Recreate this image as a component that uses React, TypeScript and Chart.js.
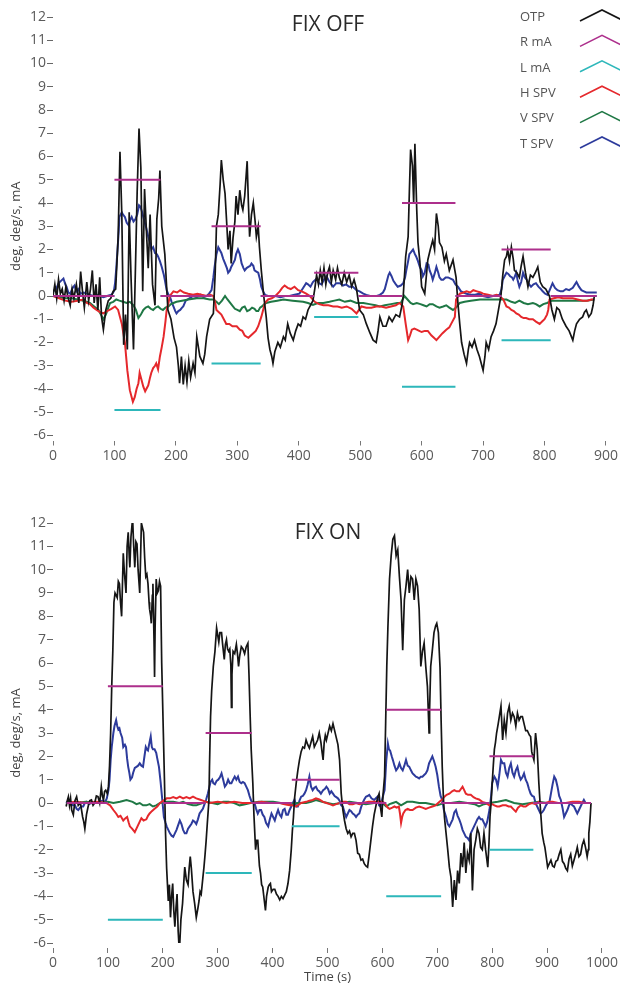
import React, { useEffect, useRef } from 'react';
import { Chart, registerables } from 'chart.js';
Chart.register(...registerables);

const SERIES_LABELS = ['OTP', 'R mA', 'L mA', 'H SPV', 'V SPV', 'T SPV'];
const SERIES_COLORS = ['#151515', '#ad2f8c', '#2db7ba', '#e5282c', '#1f7845', '#2d3b9c'];
const Y_TICKS_MIN = -6;
const Y_TICKS_MAX = 12;

// ---------- FIX OFF ----------
const offTitle = 'FIX OFF';
const offXMax = 900;
const offSpan = [0, 885];
const offStimStart = [100, 258, 425, 568, 730];
const offStimEnd = [175, 338, 497, 655, 810];
const offRLevel = [5, 3, 1, 4, 2];
const offLLevel = [-4.9, -2.9, -0.9, -3.9, -1.9];

const offOtp = [
  [0, 0], [3, 0.5], [6, -0.1], [9, 0.7], [12, 0.1], [15, 0.3], [18, -0.2], [21, 0.4], [24, 0], [28, -0.4],
  [31, 0.3], [34, -0.1], [38, 0.5], [42, -0.3], [45, 1.05], [48, 0.2], [51, -0.5], [55, 0.6], [58, -0.2], [61, 0.3],
  [64, 1.1], [67, -0.3], [70, 0.5], [73, -0.6], [76, 0.8], [79, -0.9], [82, -1.45], [86, -0.6], [90, -0.2], [94, -0.1],
  [98, 0.2], [102, 0.3], [106, 2.5], [109, 6.2], [112, 3.5], [115, -2.1], [118, -0.8], [121, -2.3], [124, 3.6], [127, 0.8],
  [131, -2.3], [134, 1.0], [137, 4.5], [140, 7.2], [143, 5.5], [146, 0.2], [149, 4.6], [152, 2.8], [155, 1.2], [158, 3.5],
  [162, 0.5], [166, -0.4], [169, 3.3], [172, 4.2], [174, 5.4], [177, 3.0], [182, 1.8], [187, -0.6], [192, -1.0], [197, -1.8],
  [201, -2.2], [204, -3.0], [206, -3.75], [209, -2.6], [212, -3.8], [215, -3.0], [218, -3.7], [221, -2.8], [224, -3.5], [228, -2.9],
  [231, -3.3], [234, -1.75], [239, -2.6], [244, -2.9], [247, -2.5], [250, -1.75], [255, -1.0], [261, -0.75], [264, 1.0], [266, 3.0],
  [269, 3.5], [272, 4.8], [274, 5.85], [277, 5.0], [280, 4.4], [283, 3.0], [285, 2.0], [288, 2.8], [290, 1.4], [293, 2.5],
  [296, 3.2], [298, 4.3], [301, 3.5], [304, 4.55], [307, 3.9], [309, 3.7], [312, 4.3], [316, 5.8], [318, 4.0], [320, 2.55],
  [323, 3.5], [326, 4.0], [329, 3.2], [331, 2.55], [334, 3.0], [336, 2.1], [339, 1.1], [343, 0.0], [347, -0.9], [350, -1.8],
  [353, -2.3], [356, -2.6], [358, -2.9], [361, -2.4], [366, -2.0], [370, -2.2], [375, -1.75], [378, -1.9], [382, -1.2], [386, -1.6],
  [391, -1.9], [395, -1.5], [399, -1.2], [403, -1.3], [407, -0.9], [411, -1.0], [415, -0.6], [419, -0.4], [423, -0.2], [426, 0.3],
  [429, 0.9], [432, 0.5], [435, 1.1], [438, 0.6], [441, 1.2], [444, 0.5], [447, 1.0], [450, 1.25], [453, 0.6], [456, 1.1],
  [460, 0.7], [463, 1.2], [466, 0.8], [470, 0.5], [474, 1.0], [478, 0.6], [482, 0.9], [486, 0.4], [490, 0.7], [494, 0.3],
  [499, -0.6], [505, -0.8], [510, -1.2], [516, -1.6], [521, -1.9], [526, -2.0], [529, -1.5], [532, -0.9], [537, -1.3], [542, -1.3],
  [547, -0.9], [552, -1.1], [558, -0.8], [564, -0.9], [568, -0.4], [570, 0.0], [574, 1.7], [578, 2.55], [580, 4.5], [582, 6.3],
  [585, 5.6], [587, 4.0], [589, 6.55], [592, 3.7], [594, 2.3], [597, 1.5], [600, 0.4], [605, 0.1], [610, 1.55], [614, 2.0],
  [618, 2.4], [621, 2.0], [624, 3.55], [627, 3.0], [629, 2.3], [633, 2.1], [637, 1.5], [640, 1.8], [645, 1.1], [651, 1.55],
  [656, 0.8], [659, -0.3], [662, -1.2], [665, -2.0], [669, -2.5], [673, -2.9], [676, -2.3], [678, -2.0], [682, -2.2], [686, -1.9],
  [690, -2.3], [694, -2.6], [700, -3.2], [703, -2.6], [705, -2.0], [709, -2.3], [713, -1.75], [717, -1.5], [721, -1.2], [725, -0.6],
  [729, 0.0], [732, 0.9], [735, 1.55], [738, 1.7], [740, 2.0], [743, 1.5], [746, 2.1], [749, 1.6], [751, 1.1], [755, 1.0],
  [759, 0.8], [762, 1.3], [765, 1.7], [769, 1.0], [773, 0.4], [777, 0.9], [781, 0.8], [785, 1.0], [789, 1.25], [793, 0.6],
  [797, 0.4], [802, 0.3], [808, 0.0], [812, -0.6], [816, -1.0], [820, -0.5], [824, -0.6], [829, -1.0], [835, -1.3], [840, -1.5],
  [846, -1.9], [849, -1.5], [852, -1.2], [857, -1.0], [862, -0.9], [865, -0.7], [868, -0.6], [872, -0.9], [876, -0.75], [879, -0.4],
  [881, 0.0],
];

const offHspv = [
  [0, 0.0], [10, -0.1], [20, -0.2], [30, -0.25], [40, -0.2], [49, -0.15], [55, -0.3], [60, -0.35], [66, -0.5], [71, -0.6],
  [77, -0.7], [82, -0.75], [88, -0.65], [95, -0.55], [101, -0.45], [106, -0.6], [112, -1.2], [117, -2.0], [121, -3.2], [125, -4.05],
  [130, -4.55], [133, -4.35], [136, -4.0], [139, -3.75], [141, -3.3], [144, -3.6], [147, -3.9], [150, -4.1], [153, -3.95], [155, -3.85],
  [158, -3.5], [160, -3.3], [163, -3.1], [166, -3.0], [168, -2.9], [171, -3.15], [174, -2.6], [177, -2.2], [180, -1.75], [183, -1.1],
  [185, -0.6], [188, -0.3], [190, 0.0], [196, 0.2], [202, 0.15], [207, 0.25], [213, 0.15], [220, 0.1], [228, 0.05], [235, 0.1],
  [242, 0.05], [250, 0.0], [256, 0.05], [261, 0.0], [264, -0.3], [266, -0.6], [270, -0.7], [274, -0.8], [278, -1.0], [282, -1.2],
  [287, -1.2], [292, -1.3], [299, -1.3], [304, -1.45], [308, -1.5], [312, -1.7], [318, -1.8], [322, -1.7], [326, -1.6], [330, -1.5],
  [334, -1.3], [339, -0.9], [342, -0.6], [345, -0.3], [350, -0.15], [356, -0.1], [362, 0.0], [369, 0.2], [373, 0.35], [377, 0.45],
  [382, 0.35], [387, 0.3], [393, 0.4], [399, 0.25], [405, 0.2], [412, 0.1], [418, 0.0], [426, -0.25], [433, -0.35], [440, -0.4],
  [448, -0.4], [456, -0.45], [463, -0.45], [470, -0.5], [478, -0.45], [486, -0.55], [494, -0.75], [502, -0.45], [510, -0.5], [518, -0.5],
  [526, -0.45], [534, -0.45], [542, -0.5], [550, -0.45], [558, -0.4], [564, -0.3], [570, -0.45], [574, -1.2], [578, -1.9], [581, -1.7],
  [584, -1.45], [588, -1.4], [592, -1.45], [596, -1.5], [600, -1.55], [605, -1.5], [610, -1.5], [616, -1.7], [620, -1.8], [624, -1.9],
  [629, -1.75], [634, -1.6], [640, -1.45], [645, -1.35], [648, -1.2], [654, -0.9], [656, -0.15], [662, 0.1], [668, 0.15], [673, 0.2],
  [679, 0.15], [684, 0.25], [690, 0.2], [696, 0.15], [700, 0.1], [708, 0.05], [716, 0.0], [722, 0.05], [727, 0.0], [733, -0.15],
  [738, -0.45], [742, -0.5], [746, -0.6], [750, -0.65], [754, -0.75], [758, -0.8], [762, -0.9], [766, -0.95], [770, -0.95], [775, -1.0],
  [781, -1.0], [786, -1.1], [792, -1.2], [796, -1.1], [800, -1.0], [804, -0.8], [806, -0.6], [808, -0.15], [815, -0.1], [822, -0.05],
  [830, -0.1], [838, -0.1], [846, -0.1], [854, -0.15], [862, -0.2], [870, -0.2], [876, -0.15], [881, -0.15],
];

const offVspv = [
  [0, 0.0], [10, -0.05], [20, -0.1], [30, -0.1], [40, -0.15], [50, -0.2], [60, -0.3], [67, -0.45], [74, -0.6], [78, -0.8],
  [82, -1.0], [86, -0.8], [90, -0.5], [93, -0.3], [98, -0.25], [103, -0.15], [108, -0.2], [114, -0.25], [120, -0.3], [125, -0.25],
  [131, -0.4], [135, -0.6], [139, -0.95], [143, -0.8], [147, -0.6], [151, -0.5], [155, -0.45], [159, -0.55], [163, -0.6], [167, -0.5],
  [171, -0.45], [175, -0.55], [179, -0.6], [183, -0.5], [188, -0.45], [192, -0.35], [196, -0.3], [201, -0.25], [210, -0.2], [220, -0.15],
  [234, -0.1], [245, -0.1], [255, -0.15], [261, -0.15], [266, -0.25], [270, -0.35], [275, -0.2], [280, 0.0], [284, -0.15], [290, -0.35],
  [296, -0.55], [300, -0.6], [304, -0.65], [308, -0.5], [312, -0.45], [316, -0.65], [320, -0.6], [324, -0.5], [328, -0.55], [331, -0.65],
  [334, -0.65], [337, -0.5], [340, -0.45], [344, -0.35], [347, -0.3], [355, -0.25], [365, -0.2], [375, -0.15], [390, -0.2], [407, -0.25],
  [415, -0.3], [423, -0.38], [431, -0.3], [440, -0.3], [450, -0.25], [458, -0.2], [466, -0.15], [475, -0.25], [484, -0.2], [494, -0.3],
  [505, -0.3], [515, -0.35], [525, -0.4], [532, -0.45], [540, -0.4], [550, -0.35], [560, -0.3], [566, -0.3], [572, 0.0], [577, -0.15],
  [582, -0.3], [586, -0.35], [592, -0.3], [598, -0.35], [603, -0.4], [608, -0.45], [613, -0.35], [618, -0.35], [624, -0.45], [629, -0.5],
  [635, -0.45], [640, -0.4], [645, -0.5], [651, -0.6], [656, -0.5], [662, -0.3], [670, -0.25], [680, -0.2], [695, -0.15], [710, -0.15],
  [725, -0.15], [738, -0.15], [746, -0.25], [752, -0.3], [759, -0.2], [766, -0.3], [773, -0.35], [781, -0.3], [786, -0.35], [792, -0.45],
  [798, -0.35], [804, -0.3], [812, -0.2], [825, -0.2], [840, -0.2], [855, -0.2], [868, -0.2], [881, -0.15],
];

const offTspv = [
  [0, 0.2], [5, 0.3], [9, 0.55], [13, 0.65], [17, 0.75], [20, 0.5], [22, 0.4], [25, 0.15], [28, 0.1], [32, 0.35],
  [35, 0.45], [38, 0.2], [41, 0.3], [45, 0.1], [50, 0.15], [55, 0.1], [60, 0.05], [66, 0.0], [71, 0.05], [76, 0.0],
  [82, -0.05], [88, 0.0], [95, 0.05], [99, 0.2], [101, 0.55], [103, 1.2], [105, 2.0], [107, 2.8], [108, 3.4], [110, 3.5],
  [112, 3.6], [114, 3.5], [117, 3.4], [120, 3.15], [123, 3.05], [126, 3.3], [128, 3.4], [131, 3.2], [134, 3.3], [137, 3.5],
  [140, 3.9], [142, 3.85], [144, 3.7], [147, 3.4], [150, 3.1], [152, 2.9], [155, 2.55], [158, 2.3], [160, 2.0], [163, 2.1],
  [166, 1.85], [169, 1.8], [171, 1.7], [174, 1.5], [177, 1.25], [180, 0.95], [182, 0.7], [185, 0.25], [188, 0.05], [190, 0.0],
  [193, -0.25], [196, -0.45], [199, -0.65], [201, -0.75], [204, -0.65], [207, -0.6], [210, -0.5], [212, -0.45], [216, -0.2], [222, -0.1],
  [228, 0.0], [234, -0.05], [240, 0.05], [245, -0.05], [250, 0.0], [254, 0.1], [258, 0.25], [261, 0.8], [263, 1.25], [266, 1.8],
  [269, 2.1], [271, 2.0], [274, 1.85], [277, 1.6], [280, 1.4], [283, 1.2], [285, 1.0], [288, 1.1], [290, 1.25], [293, 1.4],
  [296, 1.55], [298, 1.8], [301, 2.0], [304, 1.8], [307, 1.4], [310, 1.2], [312, 1.1], [315, 1.2], [318, 1.25], [321, 1.3],
  [323, 1.4], [326, 1.3], [328, 1.1], [331, 1.05], [334, 1.0], [337, 0.7], [339, 0.4], [342, 0.2], [345, 0.05], [350, 0.0],
  [362, 0.0], [370, -0.05], [378, 0.0], [385, 0.0], [393, 0.05], [401, 0.1], [406, 0.3], [412, 0.55], [415, 0.5], [419, 0.4],
  [423, 0.6], [429, 0.75], [433, 0.55], [437, 0.5], [441, 0.7], [445, 0.85], [450, 0.6], [456, 0.4], [461, 0.55], [467, 0.55],
  [472, 0.45], [477, 0.5], [482, 0.4], [488, 0.4], [494, 0.25], [499, 0.2], [505, 0.1], [510, 0.05], [516, 0.0], [527, 0.0],
  [532, 0.05], [537, 0.15], [540, 0.3], [543, 0.6], [546, 0.9], [548, 1.0], [551, 0.85], [554, 0.65], [558, 0.5], [561, 0.4],
  [566, 0.45], [570, 0.55], [573, 0.8], [575, 1.1], [578, 1.5], [580, 1.8], [583, 1.9], [586, 2.0], [589, 1.8], [591, 1.7],
  [594, 1.5], [597, 1.25], [600, 1.1], [602, 0.85], [605, 1.0], [608, 1.4], [611, 1.35], [613, 1.1], [616, 0.9], [618, 0.7],
  [621, 0.95], [624, 1.25], [627, 1.0], [629, 0.8], [632, 0.7], [635, 0.7], [639, 0.8], [643, 0.8], [647, 0.75], [651, 0.7],
  [655, 0.5], [659, 0.4], [664, 0.2], [668, 0.15], [673, 0.1], [680, 0.05], [687, 0.05], [694, 0.1], [700, 0.0], [708, -0.05],
  [716, 0.0], [727, 0.05], [730, 0.3], [732, 0.7], [735, 0.85], [738, 1.0], [741, 0.95], [744, 0.85], [747, 0.8], [749, 0.7],
  [751, 0.8], [754, 1.0], [756, 0.7], [759, 0.4], [762, 0.6], [765, 1.0], [768, 0.8], [771, 0.7], [775, 0.5], [778, 0.4],
  [782, 0.5], [786, 0.55], [790, 0.4], [794, 0.3], [797, 0.2], [801, 0.1], [805, 0.05], [809, 0.3], [813, 0.55], [817, 0.35],
  [821, 0.25], [826, 0.2], [830, 0.2], [835, 0.3], [840, 0.25], [846, 0.35], [852, 0.6], [856, 0.4], [860, 0.25], [864, 0.2],
  [868, 0.15], [874, 0.15], [885, 0.15],
];

// ---------- FIX ON ----------
const onTitle = 'FIX ON';
const onXMax = 1000;
const onSpan = [25, 980];
const onStimStart = [100, 278, 435, 607, 795];
const onStimEnd = [200, 362, 522, 707, 875];
const onRLevel = [5, 3, 1, 4, 2];
const onLLevel = [-5, -3, -1, -4, -2];

const onOtp = [
  [24, -0.15], [26, 0.1], [28, 0.27], [30, -0.1], [32, 0.2], [34, -0.3], [37, -0.5], [40, 0.1], [43, 0.27], [46, -0.1],
  [50, 0.0], [54, -0.6], [56, -0.8], [58, -1.1], [61, -0.5], [64, -0.15], [67, 0.1], [70, 0.13], [73, -0.1], [76, 0.0],
  [79, 0.3], [82, 0.27], [85, 0.0], [88, 0.7], [90, 0.3], [92, 0.13], [94, 0.5], [96, 0.55], [99, 0.4], [101, 0.7],
  [103, 1.6], [105, 3.0], [107, 5.0], [109, 6.55], [111, 8.6], [113, 9.0], [115, 8.9], [117, 8.8], [119, 9.5], [121, 9.4],
  [123, 8.6], [125, 8.0], [127, 9.8], [128, 10.7], [130, 9.9], [133, 9.0], [135, 11.0], [137, 11.6], [139, 10.5], [140, 10.1],
  [142, 11.4], [145, 12.2], [147, 11.0], [149, 10.1], [151, 11.2], [153, 11.1], [155, 10.0], [158, 9.0], [160, 11.0], [161, 12.0],
  [163, 11.8], [165, 11.6], [167, 10.5], [169, 9.7], [171, 9.8], [173, 9.4], [175, 8.6], [176, 8.3], [178, 8.0], [179, 7.7],
  [181, 8.9], [182, 9.4], [184, 7.0], [185, 5.4], [186, 7.5], [188, 9.6], [190, 9.0], [192, 9.1], [194, 9.5], [196, 9.3],
  [198, 6.0], [201, 3.0], [203, 1.0], [205, -1.3], [207, -2.8], [210, -4.2], [212, -3.5], [214, -4.9], [216, -4.0], [218, -3.45],
  [220, -4.6], [222, -5.3], [224, -4.5], [226, -3.9], [228, -5.5], [230, -6.3], [231, -6.0], [233, -5.0], [236, -4.3], [238, -3.5],
  [240, -2.75], [243, -3.3], [246, -3.5], [248, -2.8], [250, -2.3], [252, -2.8], [255, -3.8], [258, -4.3], [261, -4.9], [264, -4.5],
  [266, -4.2], [268, -3.8], [270, -3.9], [273, -3.2], [275, -2.75], [277, -2.2], [279, -1.6], [281, -0.9], [284, 0.1], [285, 1.5],
  [287, 3.7], [289, 4.8], [292, 5.85], [295, 6.5], [298, 7.5], [300, 7.2], [302, 6.9], [304, 7.3], [307, 7.3], [309, 6.8],
  [312, 6.15], [314, 6.8], [316, 7.0], [318, 6.6], [320, 6.5], [322, 6.6], [324, 5.9], [325, 4.1], [326, 5.5], [328, 6.5],
  [331, 6.4], [334, 6.8], [336, 6.4], [338, 5.85], [340, 6.3], [343, 6.7], [346, 6.6], [349, 6.4], [352, 6.7], [355, 6.85],
  [357, 5.5], [359, 3.85], [361, 2.3], [364, 0.85], [366, -0.5], [369, -2.0], [371, -1.6], [373, -1.6], [376, -2.7], [378, -3.0],
  [380, -3.5], [382, -3.6], [385, -4.2], [387, -4.6], [389, -4.0], [392, -3.6], [394, -3.5], [396, -3.45], [398, -3.8], [401, -3.7],
  [404, -3.7], [407, -3.9], [410, -4.0], [413, -4.15], [416, -4.0], [419, -4.1], [422, -3.95], [425, -3.8], [428, -3.45], [431, -2.9],
  [434, -2.0], [436, -1.2], [438, -0.6], [440, 0.2], [443, 0.85], [446, 1.4], [449, 1.85], [452, 2.2], [455, 2.4], [458, 2.35],
  [461, 2.7], [464, 2.5], [467, 2.35], [470, 2.6], [473, 2.85], [476, 2.4], [479, 2.55], [482, 2.7], [485, 3.0], [488, 2.6],
  [490, 2.2], [492, 1.85], [494, 2.6], [496, 2.9], [498, 2.7], [501, 3.0], [504, 3.3], [507, 3.1], [510, 3.4], [513, 3.1],
  [516, 2.8], [519, 2.5], [522, 1.85], [525, 0.4], [528, -0.3], [531, -0.75], [534, -1.1], [537, -1.3], [540, -1.2], [543, -1.45],
  [546, -1.3], [549, -1.3], [552, -1.6], [555, -2.15], [558, -2.2], [561, -2.45], [564, -2.4], [567, -2.6], [570, -2.7], [573, -2.75],
  [576, -2.2], [579, -1.6], [582, -1.0], [585, -0.5], [588, -0.15], [591, 0.2], [594, 0.4], [596, -0.1], [599, -0.6], [601, 0.3],
  [604, 1.15], [606, 3.5], [608, 5.85], [610, 7.5], [613, 9.6], [616, 10.6], [619, 11.3], [622, 11.45], [625, 10.6], [628, 10.85],
  [631, 9.7], [634, 8.7], [637, 6.55], [640, 8.7], [643, 9.3], [646, 10.0], [649, 9.0], [652, 9.7], [655, 9.6], [658, 8.7],
  [661, 9.6], [664, 9.3], [667, 8.3], [670, 5.85], [673, 6.5], [676, 6.85], [679, 5.85], [682, 5.0], [685, 3.0], [686, 4.0],
  [688, 5.85], [691, 6.55], [694, 7.3], [697, 7.6], [699, 7.7], [702, 7.3], [705, 5.8], [707, 3.5], [709, 1.55], [711, 0.3],
  [713, -0.6], [716, -1.3], [719, -2.0], [722, -2.75], [725, -3.2], [728, -4.45], [731, -3.3], [734, -4.15], [737, -2.9], [740, -3.45],
  [743, -2.15], [746, -2.75], [749, -1.7], [752, -3.0], [755, -2.15], [758, -2.45], [761, -1.3], [764, -3.75], [767, -2.0], [770, -1.6],
  [773, -1.1], [776, -1.3], [779, -1.9], [782, -2.0], [785, -1.3], [788, -2.0], [792, -2.75], [794, -1.8], [796, -0.6], [798, 0.0],
  [800, 0.85], [802, 1.6], [804, 2.3], [806, 2.6], [808, 3.0], [811, 3.4], [813, 3.7], [816, 4.15], [819, 2.7], [822, 3.55],
  [825, 3.0], [828, 3.85], [831, 4.15], [834, 3.55], [837, 3.85], [840, 3.7], [843, 3.3], [846, 3.85], [849, 3.55], [852, 3.7],
  [855, 3.7], [858, 3.4], [861, 3.1], [864, 3.1], [866, 3.0], [868, 2.9], [870, 2.85], [872, 2.2], [873, 2.1], [876, 1.85],
  [879, 3.0], [882, 2.3], [885, 0.85], [888, -0.3], [891, -1.3], [894, -1.7], [896, -1.9], [899, -2.4], [901, -2.75], [904, -2.6],
  [907, -2.45], [910, -2.7], [913, -2.75], [916, -2.5], [919, -2.45], [922, -2.2], [925, -2.0], [928, -2.5], [931, -2.6], [934, -2.8],
  [937, -2.9], [940, -2.4], [943, -2.2], [946, -2.7], [949, -2.45], [952, -2.2], [955, -1.9], [958, -2.3], [961, -2.2], [964, -1.8],
  [967, -1.6], [970, -1.9], [973, -2.3], [975, -2.0], [976, -1.3], [978, -0.8], [980, 0.0],
];

const onHspv = [
  [24, 0.0], [40, 0.05], [60, 0.0], [80, 0.05], [97, 0.0], [104, -0.1], [110, -0.3], [115, -0.45], [119, -0.6], [123, -0.55],
  [128, -0.75], [132, -0.65], [135, -0.6], [138, -0.85], [140, -1.0], [144, -1.1], [149, -1.25], [152, -1.1], [155, -0.95], [158, -0.8],
  [161, -0.65], [165, -0.75], [170, -0.7], [173, -0.55], [176, -0.45], [180, -0.35], [185, -0.25], [190, -0.15], [195, 0.0], [201, 0.1],
  [207, 0.2], [213, 0.2], [219, 0.25], [225, 0.2], [231, 0.27], [237, 0.2], [243, 0.25], [249, 0.2], [255, 0.27], [261, 0.2],
  [267, 0.15], [273, 0.1], [279, 0.05], [285, 0.0], [300, 0.05], [316, 0.0], [330, 0.05], [345, 0.0], [364, 0.0], [380, 0.05],
  [395, 0.0], [413, 0.0], [422, -0.05], [431, -0.1], [437, -0.1], [443, -0.15], [452, 0.0], [461, 0.05], [467, 0.1], [473, 0.13],
  [479, 0.2], [485, 0.15], [492, 0.05], [498, 0.0], [504, -0.05], [510, -0.1], [516, -0.05], [522, 0.0], [528, 0.05], [534, 0.05],
  [540, -0.05], [546, -0.05], [552, 0.0], [558, -0.05], [564, 0.0], [575, 0.05], [585, 0.05], [595, 0.05], [600, 0.05], [604, 0.0],
  [607, -0.1], [610, -0.2], [613, -0.25], [618, -0.2], [622, -0.15], [626, -0.2], [630, -0.15], [632, -0.45], [634, -0.85], [636, -0.6],
  [638, -0.45], [642, -0.3], [646, -0.25], [650, -0.3], [655, -0.3], [661, -0.2], [667, -0.15], [673, -0.2], [679, -0.25], [685, -0.2],
  [691, -0.15], [697, -0.1], [704, 0.05], [709, 0.15], [713, 0.27], [717, 0.35], [722, 0.4], [727, 0.5], [731, 0.55], [735, 0.5],
  [740, 0.5], [743, 0.6], [746, 0.7], [749, 0.55], [752, 0.4], [756, 0.35], [761, 0.35], [766, 0.25], [770, 0.2], [776, 0.15],
  [782, 0.05], [788, 0.0], [795, -0.1], [800, -0.05], [804, -0.1], [809, -0.15], [813, -0.15], [819, -0.1], [825, -0.1], [830, -0.15],
  [834, -0.15], [838, -0.25], [843, -0.37], [847, -0.2], [852, -0.1], [857, -0.15], [861, -0.15], [867, -0.05], [873, 0.0], [879, -0.05],
  [885, 0.05], [891, 0.0], [897, 0.0], [904, 0.05], [910, 0.05], [920, 0.0], [934, 0.0], [946, 0.05], [958, 0.05], [970, 0.0],
  [980, 0.0],
];

const onVspv = [
  [24, 0.0], [40, 0.0], [60, 0.05], [80, 0.0], [100, 0.05], [110, 0.0], [122, 0.05], [134, 0.13], [145, 0.05], [152, -0.05],
  [158, 0.0], [164, -0.1], [170, -0.1], [176, -0.05], [182, -0.15], [188, -0.1], [195, 0.0], [207, 0.05], [219, 0.05], [230, 0.0],
  [237, 0.05], [246, -0.05], [255, -0.1], [261, -0.1], [267, -0.05], [279, 0.05], [290, 0.0], [300, -0.05], [310, 0.05], [320, 0.05],
  [330, 0.0], [340, -0.1], [350, -0.05], [360, 0.0], [375, 0.05], [390, 0.05], [401, 0.05], [415, 0.0], [430, -0.05], [445, 0.0],
  [461, 0.0], [470, 0.05], [479, 0.13], [490, 0.05], [500, 0.0], [510, -0.05], [525, 0.0], [540, 0.05], [555, 0.0], [570, -0.05],
  [585, 0.0], [600, 0.0], [607, -0.15], [613, -0.05], [619, 0.0], [625, 0.05], [634, -0.1], [645, 0.05], [655, 0.05], [667, 0.0],
  [679, 0.0], [690, -0.05], [700, -0.1], [712, 0.0], [725, 0.0], [740, 0.05], [755, 0.0], [768, -0.05], [776, -0.15], [785, -0.05],
  [795, 0.0], [810, 0.05], [825, 0.13], [840, 0.0], [855, -0.05], [870, 0.0], [885, 0.05], [900, 0.0], [920, 0.0], [940, 0.0],
  [960, 0.0], [980, 0.0],
];

const onTspv = [
  [24, 0.0], [28, 0.1], [32, 0.05], [36, -0.1], [40, -0.1], [43, -0.25], [46, -0.3], [49, -0.2], [52, -0.15], [55, -0.15],
  [58, 0.0], [61, 0.05], [65, -0.05], [70, 0.0], [75, 0.05], [80, 0.0], [85, 0.05], [90, 0.1], [95, 0.05], [98, 0.2],
  [101, 0.55], [103, 1.0], [105, 1.85], [107, 2.4], [110, 3.0], [112, 3.3], [115, 3.55], [117, 3.3], [119, 3.15], [121, 3.2],
  [123, 3.0], [126, 2.8], [128, 2.4], [131, 2.5], [133, 2.4], [135, 1.9], [137, 1.55], [139, 1.3], [141, 1.0], [144, 1.1],
  [146, 1.3], [149, 1.5], [152, 1.55], [155, 1.6], [158, 1.7], [161, 1.6], [164, 1.55], [166, 1.9], [169, 2.4], [171, 2.3],
  [173, 2.25], [175, 2.5], [178, 2.85], [180, 2.4], [182, 2.3], [185, 2.3], [188, 2.15], [190, 1.9], [193, 1.55], [196, 0.9],
  [198, 0.4], [200, -0.1], [202, -0.6], [205, -0.85], [207, -1.0], [210, -1.15], [213, -1.3], [216, -1.4], [219, -1.45], [222, -1.3],
  [225, -1.15], [228, -0.95], [231, -0.75], [234, -0.9], [237, -1.15], [240, -1.3], [243, -1.3], [246, -1.1], [249, -1.0], [252, -0.9],
  [255, -0.75], [258, -0.8], [261, -0.9], [264, -0.7], [267, -0.45], [270, -0.35], [273, -0.25], [276, -0.05], [279, 0.15], [282, 0.4],
  [285, 0.7], [287, 0.9], [290, 1.0], [292, 0.85], [295, 0.8], [298, 0.95], [301, 1.0], [304, 1.1], [307, 1.27], [310, 1.0],
  [313, 0.7], [316, 0.8], [319, 1.0], [322, 0.85], [325, 0.85], [328, 1.0], [331, 1.13], [334, 1.0], [337, 1.13], [340, 0.9],
  [343, 0.85], [346, 0.9], [349, 0.85], [352, 0.7], [355, 0.55], [358, 0.3], [361, 0.1], [364, 0.0], [367, 0.0], [370, -0.25],
  [373, -0.45], [376, -0.3], [379, -0.3], [382, -0.5], [385, -0.6], [388, -0.85], [392, -1.0], [395, -0.7], [398, -0.45], [401, -0.6],
  [404, -0.75], [407, -0.5], [410, -0.3], [413, -0.5], [416, -0.6], [419, -0.3], [422, -0.25], [425, -0.5], [428, -0.5], [431, -0.3],
  [434, -0.15], [437, 0.0], [440, 0.15], [443, -0.15], [446, -0.15], [449, 0.1], [452, 0.27], [455, 0.3], [458, 0.4], [461, 0.55],
  [464, 0.8], [467, 1.13], [470, 0.7], [473, 0.55], [476, 0.65], [479, 0.7], [482, 0.55], [485, 0.5], [488, 0.4], [492, 0.55],
  [495, 0.6], [498, 0.7], [501, 0.6], [504, 0.4], [507, 0.5], [510, 0.4], [513, 0.3], [516, 0.25], [519, 0.2], [522, 0.1],
  [525, -0.1], [528, -0.15], [531, -0.4], [534, -0.6], [537, -0.45], [540, -0.3], [543, -0.35], [546, -0.45], [549, -0.5], [552, -0.6],
  [555, -0.5], [558, -0.45], [561, -0.2], [564, 0.0], [567, 0.15], [570, 0.27], [573, 0.3], [576, 0.35], [580, 0.2], [585, 0.13],
  [588, 0.2], [591, 0.27], [594, -0.1], [597, -0.15], [600, 0.2], [604, 0.55], [607, 1.8], [610, 2.55], [612, 2.3], [614, 2.25],
  [617, 2.0], [619, 1.85], [622, 1.6], [625, 1.4], [628, 1.5], [631, 1.7], [634, 1.5], [637, 1.4], [640, 1.6], [643, 1.85],
  [646, 1.6], [649, 1.55], [652, 1.4], [655, 1.27], [658, 1.2], [661, 1.13], [664, 1.1], [667, 1.05], [670, 1.13], [673, 1.13],
  [676, 1.2], [679, 1.27], [682, 1.4], [685, 1.7], [688, 1.85], [691, 2.0], [694, 1.8], [697, 1.55], [700, 1.2], [703, 0.7],
  [706, 0.3], [709, 0.13], [712, -0.3], [716, -0.6], [719, -0.9], [722, -1.0], [725, -0.85], [728, -0.7], [731, -0.4], [734, -0.3],
  [737, -0.55], [740, -0.7], [743, -0.9], [746, -1.15], [749, -1.3], [752, -1.45], [755, -1.5], [758, -1.6], [761, -1.3], [764, -1.15],
  [767, -1.0], [770, -0.85], [773, -0.7], [776, -0.6], [779, -0.7], [782, -0.7], [785, -0.85], [788, -1.0], [791, -0.8], [795, -0.3],
  [798, 0.3], [800, 0.85], [802, 1.0], [804, 1.13], [807, 1.0], [810, 0.7], [813, 1.2], [816, 1.85], [819, 1.7], [822, 1.7],
  [825, 1.3], [828, 1.13], [831, 1.5], [834, 1.7], [837, 1.3], [840, 1.13], [843, 1.4], [846, 1.55], [849, 1.2], [852, 1.0],
  [855, 1.1], [858, 1.27], [861, 1.0], [864, 0.85], [867, 0.6], [870, 0.4], [873, 0.3], [876, 0.27], [879, 0.0], [882, -0.15],
  [885, -0.3], [888, -0.45], [891, -0.4], [894, -0.3], [898, -0.1], [901, 0.0], [904, 0.0], [907, 0.4], [910, 0.8], [913, 1.13],
  [916, 1.0], [919, 0.7], [922, 0.3], [925, 0.13], [928, -0.2], [931, -0.6], [934, -0.45], [937, -0.3], [940, -0.1], [943, 0.0],
  [946, -0.1], [949, -0.15], [952, -0.3], [955, -0.45], [958, -0.3], [961, -0.15], [964, 0.0], [967, 0.13], [970, 0.0], [980, 0.0],
];

// ---------- helpers ----------
type Pt = { x: number; y: number | null };

const toPoints = (pairs: number[][]): Pt[] => pairs.map(([x, y]) => ({ x, y }));

const stepTrace = (starts: number[], ends: number[], levels: number[], span: number[]): Pt[] => {
  const out: Pt[] = [];
  let prev = span[0];
  starts.forEach((s, i) => {
    out.push({ x: prev, y: 0 }, { x: s, y: 0 }, { x: s, y: null });
    out.push({ x: s, y: levels[i] }, { x: ends[i], y: levels[i] }, { x: ends[i], y: null });
    prev = ends[i];
  });
  out.push({ x: prev, y: 0 }, { x: span[1], y: 0 });
  return out;
};

const FONT = '"Open Sans", "Noto Sans", sans-serif';

const panelTextPlugin = {
  id: 'panelText',
  afterDraw(chart: any, _args: any, opts: any) {
    const ctx = chart.ctx;
    ctx.save();
    ctx.font = `21px ${FONT}`;
    ctx.fillStyle = '#2a2a2a';
    ctx.textAlign = 'center';
    ctx.textBaseline = 'middle';
    ctx.fillText(opts.title, opts.titleX, opts.titleY);
    if (opts.legend) {
      SERIES_LABELS.forEach((lab, i) => {
        const y = opts.legendY + i * 25.4;
        ctx.font = `13px ${FONT}`;
        ctx.fillStyle = '#555';
        ctx.textAlign = 'left';
        ctx.fillText(lab, opts.legendX, y);
        ctx.strokeStyle = SERIES_COLORS[i];
        ctx.lineWidth = 1.6;
        ctx.beginPath();
        ctx.moveTo(opts.legendX + 60, y + 4);
        ctx.lineTo(opts.legendX + 82, y - 7);
        ctx.lineTo(opts.legendX + 104, y + 4);
        ctx.stroke();
      });
    }
    ctx.restore();
  },
};

type PanelProps = {
  height: number;
  top: number;
  padTop: number;
  xAxisHeight: number;
  xMax: number;
  title: string;
  titleY: number;
  showLegend: boolean;
  showXTitle: boolean;
  otp: number[][];
  hspv: number[][];
  vspv: number[][];
  tspv: number[][];
  stimStart: number[];
  stimEnd: number[];
  rLevel: number[];
  lLevel: number[];
  span: number[];
};

function Panel(p: PanelProps) {
  const ref = useRef<HTMLCanvasElement | null>(null);
  useEffect(() => {
    if (!ref.current) return;
    const line = (label: string, color: string, data: Pt[], width: number) => ({
      label,
      data,
      borderColor: color,
      backgroundColor: color,
      borderWidth: width,
      pointRadius: 0,
      tension: 0,
      spanGaps: false,
      fill: false,
    });
    const chart = new Chart(ref.current, {
      type: 'line',
      data: {
        datasets: [
          line(SERIES_LABELS[1], SERIES_COLORS[1], stepTrace(p.stimStart, p.stimEnd, p.rLevel, p.span), 2),
          line(SERIES_LABELS[2], SERIES_COLORS[2], stepTrace(p.stimStart, p.stimEnd, p.lLevel, p.span), 2),
          line(SERIES_LABELS[0], SERIES_COLORS[0], toPoints(p.otp), 1.7),
          line(SERIES_LABELS[3], SERIES_COLORS[3], toPoints(p.hspv), 2),
          line(SERIES_LABELS[4], SERIES_COLORS[4], toPoints(p.vspv), 2),
          line(SERIES_LABELS[5], SERIES_COLORS[5], toPoints(p.tspv), 2),
        ] as any,
      },
      options: {
        responsive: false,
        animation: false,
        devicePixelRatio: 1,
        layout: { padding: { top: p.padTop, right: 14, left: 0, bottom: 0 } },
        plugins: {
          legend: { display: false },
          tooltip: { enabled: false },
          panelText: {
            title: p.title,
            titleX: 328,
            titleY: p.titleY,
            legend: p.showLegend,
            legendX: 520,
            legendY: 17,
          },
        } as any,
        scales: {
          x: {
            type: 'linear',
            min: 0,
            max: p.xMax,
            afterFit: (s: any) => {
              s.height = p.xAxisHeight;
            },
            border: { display: false },
            grid: {
              display: true,
              drawOnChartArea: false,
              drawTicks: true,
              tickLength: 10,
              tickColor: '#777',
              tickWidth: 1,
              tickBorderDash: [0, 5, 5, 0],
            },
            ticks: {
              stepSize: 100,
              padding: 2,
              color: '#5a5a5a',
              font: { family: FONT, size: 14 },
              maxRotation: 0,
              format: { useGrouping: false },
            },
            title: {
              display: p.showXTitle,
              text: 'Time (s)',
              color: '#444',
              font: { family: FONT, size: 13 },
              padding: { top: 0, bottom: 4 },
            },
          },
          y: {
            type: 'linear',
            min: Y_TICKS_MIN,
            max: Y_TICKS_MAX,
            afterFit: (s: any) => {
              s.width = 53;
            },
            border: { display: false },
            grid: {
              display: true,
              drawOnChartArea: false,
              drawTicks: true,
              tickLength: 6,
              tickColor: '#666',
              tickWidth: 1,
            },
            ticks: {
              stepSize: 1,
              padding: 1,
              color: '#5a5a5a',
              font: { family: FONT, size: 14 },
            },
            title: {
              display: true,
              text: 'deg, deg/s, mA',
              color: '#444',
              font: { family: FONT, size: 13 },
              padding: { top: 8, bottom: 0 },
            },
          },
        },
      } as any,
      plugins: [panelTextPlugin as any],
    });
    return () => chart.destroy();
  }, []);
  return (
    <canvas
      ref={ref}
      width={620}
      height={p.height}
      style={{ position: 'absolute', left: 0, top: p.top, width: 620, height: p.height, display: 'block' }}
    />
  );
}

export default function App() {
  return (
    <div style={{ position: 'absolute', left: 0, top: 0, width: 620, height: 989, background: '#fff' }}>
      <Panel
        height={470}
        top={0}
        padTop={17}
        xAxisHeight={34.5}
        xMax={offXMax}
        title={offTitle}
        titleY={25}
        showLegend={true}
        showXTitle={false}
        otp={offOtp}
        hspv={offHspv}
        vspv={offVspv}
        tspv={offTspv}
        stimStart={offStimStart}
        stimEnd={offStimEnd}
        rLevel={offRLevel}
        lLevel={offLLevel}
        span={offSpan}
      />
      <Panel
        height={509}
        top={480}
        padTop={43}
        xAxisHeight={46}
        xMax={onXMax}
        title={onTitle}
        titleY={53}
        showLegend={false}
        showXTitle={true}
        otp={onOtp}
        hspv={onHspv}
        vspv={onVspv}
        tspv={onTspv}
        stimStart={onStimStart}
        stimEnd={onStimEnd}
        rLevel={onRLevel}
        lLevel={onLLevel}
        span={onSpan}
      />
    </div>
  );
}
